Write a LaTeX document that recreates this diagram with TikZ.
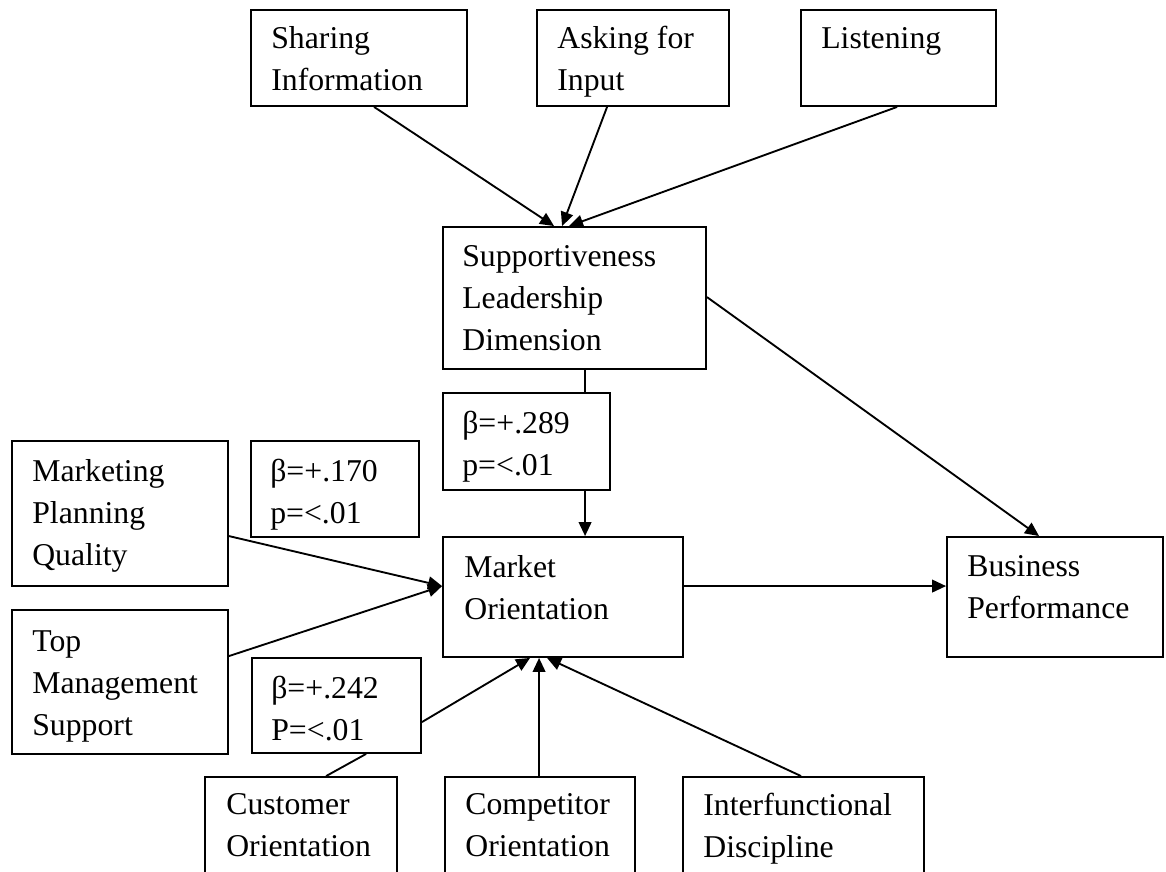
\documentclass[tikz,border=0pt]{standalone}
\usepackage{fontspec}
\setmainfont{Liberation Serif}
\usetikzlibrary{arrows.meta,fit,calc}
\begin{document}
\begin{tikzpicture}[x=0.75pt,y=-0.75pt,
  box/.style={draw, line width=1.4pt, inner sep=0pt, rectangle},
  txt/.style={anchor=north west, inner sep=0pt, align=left, font=\fontsize{23.8pt}{31.5pt}\selectfont},
  arr/.style={line width=1.4pt, -{Triangle[length=10.5pt,width=9.5pt]}},
  ln/.style={line width=1.4pt}]
\useasboundingbox (0,0) rectangle (1166,871);
\clip (0,0) rectangle (1166,871);
% boxes
\node[box, fit={(251,10) (467,106)}] (share) {};
\node[box, fit={(537,10) (729,106)}] (ask) {};
\node[box, fit={(801,10) (996,106)}] (listen) {};
\node[box, fit={(443,227) (706,369)}] (supp) {};
\node[box, fit={(443,393) (610,490)}] (b289) {};
\node[box, fit={(12,441) (228,586)}] (mpq) {};
\node[box, fit={(251,441) (419,537)}] (b170) {};
\node[box, fit={(443,537) (683,657)}] (mo) {};
\node[box, fit={(947,537) (1163,657)}] (bp) {};
\node[box, fit={(12,610) (228,754)}] (tms) {};
\node[box, fit={(252,658) (421,753)}] (b242) {};
\node[box, fit={(205,777) (397,885)}] (co) {};
\node[box, fit={(445,777) (635,885)}] (compo) {};
\node[box, fit={(683,777) (924,885)}] (ifd) {};
% texts
\node[txt] (shareT) at ($(share.north west)+(21,17)$) {Sharing\\Information};
\node[txt] (askT) at ($(ask.north west)+(21,17)$) {Asking for\\Input};
\node[txt] (listenT) at ($(listen.north west)+(21,18)$) {Listening};
\node[txt] (suppT) at ($(supp.north west)+(20,19)$) {Supportiveness\\Leadership\\Dimension};
\node[txt] (b289T) at ($(b289.north west)+(20,19)$) {β=+.289\\p=<.01};
\node[txt] (mpqT) at ($(mpq.north west)+(21,19)$) {Marketing\\Planning\\Quality};
\node[txt] (b170T) at ($(b170.north west)+(20,19)$) {β=+.170\\p=<.01};
\node[txt] (moT) at ($(mo.north west)+(22,19)$) {Market\\Orientation};
\node[txt] (bpT) at ($(bp.north west)+(21,19)$) {Business\\Performance};
\node[txt] (tmsT) at ($(tms.north west)+(21,21)$) {Top\\Management\\Support};
\node[txt] (b242T) at ($(b242.north west)+(20,19)$) {β=+.242\\P=<.01};
\node[txt] (coT) at ($(co.north west)+(22,17)$) {Customer\\Orientation};
\node[txt] (compoT) at ($(compo.north west)+(21,17)$) {Competitor\\Orientation};
\node[txt] (ifdT) at ($(ifd.north west)+(21,17)$) {Interfunctional\\Discipline};
% connectors
\draw[arr] ($(share.south west)+(124,0)$) -- ($(supp.north west)+(112,0)$);
\draw[arr] ($(ask.south west)+(71,0)$) -- ($(supp.north west)+(120,0)$);
\draw[arr] ($(listen.south west)+(97,0)$) -- ($(supp.north west)+(127,0)$);
\draw[arr] ($(supp.north east)+(0,71)$) -- ($(bp.north west)+(93,0)$);
\draw[ln] ($(supp.south west)+(143,0)$) -- ($(b289.north west)+(143,0)$);
\draw[arr] ($(b289.south west)+(143,0)$) -- ($(mo.north west)+(143,0)$);
\draw[arr] ($(mpq.north east)+(0,96)$) -- ($(mo.north west)+(0,50)$);
\draw[arr] ($(tms.north east)+(0,47)$) -- ($(mo.north west)+(0,50)$);
\draw[ln] ($(co.north west)+(122,0)$) -- ($(b242.south west)+(115,0)$);
\draw[arr] ($(b242.north east)+(0,65)$) -- ($(mo.south west)+(88,0)$);
\draw[arr] ($(compo.north west)+(95,0)$) -- ($(mo.south west)+(97,0)$);
\draw[arr] ($(ifd.north west)+(119,0)$) -- ($(mo.south west)+(105,0)$);
\draw[arr] ($(mo.north east)+(0,50)$) -- ($(bp.north west)+(0,50)$);
\end{tikzpicture}
\end{document}
